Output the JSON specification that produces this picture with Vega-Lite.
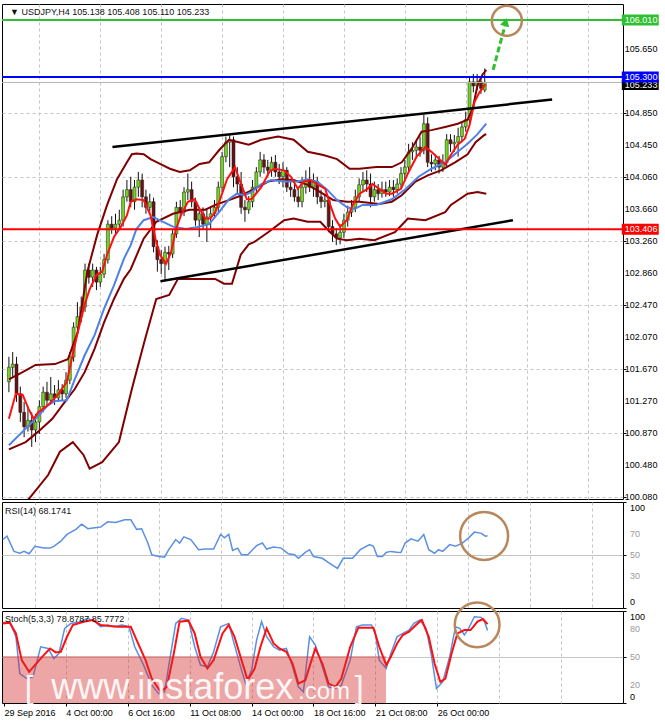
{
  "$schema": "https://vega.github.io/schema/vega-lite/v6.json",
  "padding": {"left": 0, "top": 0, "right": 0, "bottom": 0},
  "background": "white",
  "bounds": "flush",
  "spacing": 3,
  "config": {
    "font": "Liberation Sans",
    "view": {"stroke": "black", "strokeWidth": 1},
    "axis": {"labelFont": "Liberation Sans", "labelFontSize": 9, "labelColor": "black", "tickColor": "black", "title": null}
  },
  "datasets": {
    "candles": [
      {"i":0,"o":101.51,"h":101.82,"l":101.38,"c":101.69},
      {"i":1,"o":101.69,"h":101.88,"l":101.57,"c":101.73},
      {"i":2,"o":101.73,"h":101.82,"l":101.26,"c":101.36},
      {"i":3,"o":101.36,"h":101.45,"l":101.01,"c":101.13},
      {"i":4,"o":101.13,"h":101.26,"l":100.82,"c":100.95},
      {"i":5,"o":100.95,"h":101.20,"l":100.89,"c":101.03},
      {"i":6,"o":101.03,"h":101.13,"l":100.70,"c":100.91},
      {"i":7,"o":100.91,"h":101.11,"l":100.76,"c":101.01},
      {"i":8,"o":101.01,"h":101.28,"l":100.86,"c":101.20},
      {"i":9,"o":101.20,"h":101.45,"l":101.13,"c":101.38},
      {"i":10,"o":101.38,"h":101.51,"l":101.20,"c":101.28},
      {"i":11,"o":101.28,"h":101.57,"l":101.23,"c":101.36},
      {"i":12,"o":101.36,"h":101.47,"l":101.22,"c":101.31},
      {"i":13,"o":101.31,"h":101.53,"l":101.26,"c":101.41},
      {"i":14,"o":101.41,"h":101.48,"l":101.28,"c":101.36},
      {"i":15,"o":101.36,"h":101.63,"l":101.31,"c":101.53},
      {"i":16,"o":101.53,"h":101.88,"l":101.48,"c":101.82},
      {"i":17,"o":101.82,"h":102.25,"l":101.76,"c":102.19},
      {"i":18,"o":102.19,"h":102.50,"l":102.10,"c":102.32},
      {"i":19,"o":102.32,"h":102.57,"l":102.25,"c":102.44},
      {"i":20,"o":102.44,"h":102.98,"l":102.38,"c":102.90},
      {"i":21,"o":102.90,"h":102.98,"l":102.73,"c":102.81},
      {"i":22,"o":102.81,"h":102.98,"l":102.69,"c":102.90},
      {"i":23,"o":102.90,"h":102.94,"l":102.65,"c":102.75},
      {"i":24,"o":102.75,"h":102.94,"l":102.69,"c":102.85},
      {"i":25,"o":102.85,"h":103.10,"l":102.80,"c":103.03},
      {"i":26,"o":103.03,"h":103.52,"l":102.98,"c":103.47},
      {"i":27,"o":103.47,"h":103.57,"l":103.35,"c":103.42},
      {"i":28,"o":103.42,"h":103.60,"l":103.35,"c":103.47},
      {"i":29,"o":103.47,"h":103.65,"l":103.40,"c":103.52},
      {"i":30,"o":103.52,"h":103.90,"l":103.44,"c":103.81},
      {"i":31,"o":103.81,"h":104.02,"l":103.75,"c":103.90},
      {"i":32,"o":103.90,"h":104.06,"l":103.68,"c":103.75},
      {"i":33,"o":103.75,"h":104.02,"l":103.65,"c":103.93},
      {"i":34,"o":103.93,"h":104.12,"l":103.81,"c":104.02},
      {"i":35,"o":104.02,"h":104.10,"l":103.68,"c":103.81},
      {"i":36,"o":103.81,"h":103.90,"l":103.60,"c":103.68},
      {"i":37,"o":103.68,"h":103.85,"l":103.60,"c":103.75},
      {"i":38,"o":103.75,"h":103.80,"l":103.12,"c":103.19},
      {"i":39,"o":103.19,"h":103.27,"l":102.88,"c":103.03},
      {"i":40,"o":103.03,"h":103.15,"l":102.85,"c":102.98},
      {"i":41,"o":102.98,"h":103.19,"l":102.78,"c":103.12},
      {"i":42,"o":103.12,"h":103.20,"l":102.90,"c":103.10},
      {"i":43,"o":103.10,"h":103.40,"l":103.05,"c":103.35},
      {"i":44,"o":103.35,"h":103.75,"l":103.30,"c":103.68},
      {"i":45,"o":103.68,"h":103.77,"l":103.56,"c":103.62},
      {"i":46,"o":103.62,"h":103.93,"l":103.57,"c":103.87},
      {"i":47,"o":103.87,"h":104.10,"l":103.77,"c":103.90},
      {"i":48,"o":103.90,"h":104.00,"l":103.68,"c":103.75},
      {"i":49,"o":103.75,"h":103.80,"l":103.45,"c":103.52},
      {"i":50,"o":103.52,"h":103.68,"l":103.31,"c":103.60},
      {"i":51,"o":103.60,"h":103.68,"l":103.40,"c":103.47},
      {"i":52,"o":103.47,"h":103.65,"l":103.25,"c":103.56},
      {"i":53,"o":103.56,"h":103.68,"l":103.40,"c":103.60},
      {"i":54,"o":103.60,"h":103.77,"l":103.55,"c":103.68},
      {"i":55,"o":103.68,"h":104.00,"l":103.62,"c":103.93},
      {"i":56,"o":103.93,"h":104.37,"l":103.87,"c":104.31},
      {"i":57,"o":104.31,"h":104.56,"l":104.24,"c":104.49},
      {"i":58,"o":104.49,"h":104.59,"l":104.18,"c":104.52},
      {"i":59,"o":104.52,"h":104.56,"l":103.93,"c":104.06},
      {"i":60,"o":104.06,"h":104.18,"l":103.85,"c":103.97},
      {"i":61,"o":103.97,"h":104.12,"l":103.60,"c":103.68},
      {"i":62,"o":103.68,"h":103.77,"l":103.50,"c":103.65},
      {"i":63,"o":103.65,"h":103.82,"l":103.60,"c":103.75},
      {"i":64,"o":103.75,"h":104.02,"l":103.68,"c":103.93},
      {"i":65,"o":103.93,"h":104.18,"l":103.85,"c":104.12},
      {"i":66,"o":104.12,"h":104.37,"l":104.06,"c":104.27},
      {"i":67,"o":104.27,"h":104.34,"l":104.10,"c":104.18},
      {"i":68,"o":104.18,"h":104.27,"l":104.06,"c":104.14},
      {"i":69,"o":104.14,"h":104.31,"l":104.06,"c":104.24},
      {"i":70,"o":104.24,"h":104.33,"l":104.06,"c":104.12},
      {"i":71,"o":104.12,"h":104.22,"l":103.97,"c":104.06},
      {"i":72,"o":104.06,"h":104.24,"l":103.93,"c":104.14},
      {"i":73,"o":104.14,"h":104.18,"l":103.87,"c":103.93},
      {"i":74,"o":103.93,"h":104.02,"l":103.81,"c":103.90},
      {"i":75,"o":103.90,"h":104.00,"l":103.75,"c":103.81},
      {"i":76,"o":103.81,"h":103.93,"l":103.68,"c":103.75},
      {"i":77,"o":103.75,"h":104.06,"l":103.68,"c":103.93},
      {"i":78,"o":103.93,"h":104.14,"l":103.85,"c":104.02},
      {"i":79,"o":104.02,"h":104.18,"l":103.87,"c":103.93},
      {"i":80,"o":103.93,"h":104.10,"l":103.81,"c":104.00},
      {"i":81,"o":104.00,"h":104.06,"l":103.72,"c":103.81},
      {"i":82,"o":103.81,"h":103.90,"l":103.67,"c":103.75},
      {"i":83,"o":103.75,"h":103.85,"l":103.68,"c":103.77},
      {"i":84,"o":103.77,"h":103.81,"l":103.37,"c":103.44},
      {"i":85,"o":103.44,"h":103.52,"l":103.25,"c":103.35},
      {"i":86,"o":103.35,"h":103.42,"l":103.21,"c":103.30},
      {"i":87,"o":103.30,"h":103.47,"l":103.22,"c":103.37},
      {"i":88,"o":103.37,"h":103.60,"l":103.30,"c":103.52},
      {"i":89,"o":103.52,"h":103.70,"l":103.44,"c":103.62},
      {"i":90,"o":103.62,"h":103.77,"l":103.56,"c":103.68},
      {"i":91,"o":103.68,"h":103.90,"l":103.62,"c":103.81},
      {"i":92,"o":103.81,"h":104.04,"l":103.75,"c":103.96},
      {"i":93,"o":103.96,"h":104.12,"l":103.87,"c":104.02},
      {"i":94,"o":104.02,"h":104.14,"l":103.87,"c":103.97},
      {"i":95,"o":103.97,"h":104.10,"l":103.68,"c":103.81},
      {"i":96,"o":103.81,"h":104.00,"l":103.75,"c":103.90},
      {"i":97,"o":103.90,"h":103.97,"l":103.77,"c":103.85},
      {"i":98,"o":103.85,"h":104.00,"l":103.80,"c":103.90},
      {"i":99,"o":103.90,"h":104.00,"l":103.81,"c":103.87},
      {"i":100,"o":103.87,"h":104.02,"l":103.82,"c":103.93},
      {"i":101,"o":103.93,"h":104.02,"l":103.81,"c":103.90},
      {"i":102,"o":103.90,"h":104.04,"l":103.85,"c":103.97},
      {"i":103,"o":103.97,"h":104.18,"l":103.92,"c":104.10},
      {"i":104,"o":104.10,"h":104.27,"l":104.02,"c":104.18},
      {"i":105,"o":104.18,"h":104.47,"l":104.12,"c":104.37},
      {"i":106,"o":104.37,"h":104.49,"l":104.27,"c":104.39},
      {"i":107,"o":104.39,"h":104.52,"l":104.31,"c":104.43},
      {"i":108,"o":104.43,"h":104.56,"l":104.31,"c":104.39},
      {"i":109,"o":104.39,"h":104.83,"l":104.34,"c":104.72},
      {"i":110,"o":104.72,"h":104.80,"l":104.18,"c":104.24},
      {"i":111,"o":104.24,"h":104.34,"l":104.12,"c":104.22},
      {"i":112,"o":104.22,"h":104.34,"l":104.14,"c":104.27},
      {"i":113,"o":104.27,"h":104.32,"l":104.10,"c":104.18},
      {"i":114,"o":104.18,"h":104.34,"l":104.12,"c":104.24},
      {"i":115,"o":104.24,"h":104.59,"l":104.18,"c":104.52},
      {"i":116,"o":104.52,"h":104.59,"l":104.37,"c":104.47},
      {"i":117,"o":104.47,"h":104.58,"l":104.37,"c":104.49},
      {"i":118,"o":104.49,"h":104.67,"l":104.31,"c":104.56},
      {"i":119,"o":104.56,"h":104.74,"l":104.49,"c":104.68},
      {"i":120,"o":104.68,"h":104.87,"l":104.62,"c":104.77},
      {"i":121,"o":104.77,"h":105.31,"l":104.72,"c":105.24},
      {"i":122,"o":105.24,"h":105.34,"l":105.11,"c":105.19},
      {"i":123,"o":105.19,"h":105.34,"l":105.14,"c":105.24},
      {"i":124,"o":105.24,"h":105.29,"l":105.09,"c":105.16},
      {"i":125,"o":105.138,"h":105.408,"l":105.110,"c":105.233}
    ],
    "lines": [
      {"s":"up","i":0,"p":101.54},{"s":"up","i":3.6,"p":101.63},{"s":"up","i":7.0,"p":101.72},{"s":"up","i":12.1,"p":101.73},{"s":"up","i":15.5,"p":101.79},{"s":"up","i":18.1,"p":102.13},{"s":"up","i":20.6,"p":102.88},{"s":"up","i":23.2,"p":103.34},{"s":"up","i":25.8,"p":103.71},{"s":"up","i":28.4,"p":104.03},{"s":"up","i":31.0,"p":104.24},{"s":"up","i":32.3,"p":104.34},{"s":"up","i":33.5,"p":104.35},{"s":"up","i":35.4,"p":104.34},{"s":"up","i":37.2,"p":104.28},{"s":"up","i":39.7,"p":104.22},{"s":"up","i":42.3,"p":104.16},{"s":"up","i":44.9,"p":104.12},{"s":"up","i":47.5,"p":104.14},{"s":"up","i":50.1,"p":104.22},{"s":"up","i":52.6,"p":104.24},{"s":"up","i":55.2,"p":104.39},{"s":"up","i":57.8,"p":104.52},{"s":"up","i":60.4,"p":104.49},{"s":"up","i":63.0,"p":104.46},{"s":"up","i":66.3,"p":104.52},{"s":"up","i":70.7,"p":104.56},{"s":"up","i":74.8,"p":104.52},{"s":"up","i":78.5,"p":104.37},{"s":"up","i":82.6,"p":104.33},{"s":"up","i":86.2,"p":104.28},{"s":"up","i":89.5,"p":104.16},{"s":"up","i":92.1,"p":104.16},{"s":"up","i":96.5,"p":104.18},{"s":"up","i":100.6,"p":104.18},{"s":"up","i":103.2,"p":104.24},{"s":"up","i":105.8,"p":104.41},{"s":"up","i":108.4,"p":104.62},{"s":"up","i":111.0,"p":104.64},{"s":"up","i":114.6,"p":104.68},{"s":"up","i":117.9,"p":104.72},{"s":"up","i":120.5,"p":104.77},{"s":"up","i":121.8,"p":104.90},{"s":"up","i":123.1,"p":105.20},{"s":"up","i":124.4,"p":105.33},{"s":"up","i":125.4,"p":105.39},
      {"s":"mid","i":0,"p":100.67},{"s":"mid","i":4.4,"p":100.76},{"s":"mid","i":7.7,"p":100.89},{"s":"mid","i":11.4,"p":101.05},{"s":"mid","i":14.7,"p":101.26},{"s":"mid","i":17.3,"p":101.42},{"s":"mid","i":19.9,"p":101.63},{"s":"mid","i":22.5,"p":101.92},{"s":"mid","i":25.0,"p":102.25},{"s":"mid","i":27.6,"p":102.54},{"s":"mid","i":30.2,"p":102.79},{"s":"mid","i":32.0,"p":102.91},{"s":"mid","i":35.4,"p":103.29},{"s":"mid","i":38.7,"p":103.50},{"s":"mid","i":43.1,"p":103.60},{"s":"mid","i":47.5,"p":103.65},{"s":"mid","i":51.6,"p":103.65},{"s":"mid","i":54.2,"p":103.71},{"s":"mid","i":57.8,"p":103.77},{"s":"mid","i":61.2,"p":103.83},{"s":"mid","i":64.5,"p":103.91},{"s":"mid","i":68.1,"p":104.00},{"s":"mid","i":71.5,"p":104.03},{"s":"mid","i":74.8,"p":104.02},{"s":"mid","i":78.5,"p":103.96},{"s":"mid","i":81.8,"p":103.87},{"s":"mid","i":85.2,"p":103.77},{"s":"mid","i":88.8,"p":103.75},{"s":"mid","i":92.1,"p":103.75},{"s":"mid","i":97.3,"p":103.72},{"s":"mid","i":100.6,"p":103.75},{"s":"mid","i":103.2,"p":103.83},{"s":"mid","i":106.8,"p":104.00},{"s":"mid","i":110.2,"p":104.08},{"s":"mid","i":113.5,"p":104.14},{"s":"mid","i":117.2,"p":104.24},{"s":"mid","i":120.5,"p":104.34},{"s":"mid","i":122.6,"p":104.49},{"s":"mid","i":124.9,"p":104.58},{"s":"mid","i":125.4,"p":104.59},
      {"s":"lo","i":1.8,"p":99.95},{"s":"lo","i":5.2,"p":100.05},{"s":"lo","i":10.3,"p":100.35},{"s":"lo","i":13.4,"p":100.64},{"s":"lo","i":16.8,"p":100.76},{"s":"lo","i":19.6,"p":100.60},{"s":"lo","i":21.2,"p":100.43},{"s":"lo","i":24.5,"p":100.51},{"s":"lo","i":28.9,"p":100.76},{"s":"lo","i":32.3,"p":101.42},{"s":"lo","i":35.6,"p":102.01},{"s":"lo","i":38.7,"p":102.54},{"s":"lo","i":42.1,"p":102.59},{"s":"lo","i":44.4,"p":102.79},{"s":"lo","i":54.2,"p":102.79},{"s":"lo","i":56.5,"p":102.73},{"s":"lo","i":58.6,"p":102.73},{"s":"lo","i":60.9,"p":103.09},{"s":"lo","i":63.0,"p":103.22},{"s":"lo","i":64.5,"p":103.25},{"s":"lo","i":68.1,"p":103.37},{"s":"lo","i":72.3,"p":103.52},{"s":"lo","i":74.8,"p":103.54},{"s":"lo","i":78.5,"p":103.50},{"s":"lo","i":81.8,"p":103.50},{"s":"lo","i":84.4,"p":103.37},{"s":"lo","i":86.2,"p":103.29},{"s":"lo","i":88.8,"p":103.27},{"s":"lo","i":92.1,"p":103.29},{"s":"lo","i":96.0,"p":103.27},{"s":"lo","i":101.4,"p":103.37},{"s":"lo","i":104.8,"p":103.54},{"s":"lo","i":109.4,"p":103.52},{"s":"lo","i":114.6,"p":103.62},{"s":"lo","i":116.1,"p":103.71},{"s":"lo","i":120.5,"p":103.85},{"s":"lo","i":123.1,"p":103.87},{"s":"lo","i":125.4,"p":103.85},
      {"s":"ma","i":0,"p":100.72},{"s":"ma","i":3.6,"p":100.89},{"s":"ma","i":7.0,"p":101.05},{"s":"ma","i":10.3,"p":101.22},{"s":"ma","i":12.1,"p":101.27},{"s":"ma","i":15.2,"p":101.28},{"s":"ma","i":17.3,"p":101.54},{"s":"ma","i":19.9,"p":101.84},{"s":"ma","i":22.5,"p":102.09},{"s":"ma","i":25.0,"p":102.42},{"s":"ma","i":27.6,"p":102.71},{"s":"ma","i":30.2,"p":103.04},{"s":"ma","i":32.0,"p":103.21},{"s":"ma","i":33.5,"p":103.41},{"s":"ma","i":35.4,"p":103.52},{"s":"ma","i":37.9,"p":103.56},{"s":"ma","i":40.5,"p":103.50},{"s":"ma","i":43.1,"p":103.44},{"s":"ma","i":46.5,"p":103.41},{"s":"ma","i":50.1,"p":103.44},{"s":"ma","i":52.6,"p":103.47},{"s":"ma","i":55.2,"p":103.62},{"s":"ma","i":57.8,"p":103.78},{"s":"ma","i":59.9,"p":103.85},{"s":"ma","i":61.9,"p":103.83},{"s":"ma","i":63.7,"p":103.87},{"s":"ma","i":66.3,"p":103.97},{"s":"ma","i":68.9,"p":104.02},{"s":"ma","i":72.3,"p":104.00},{"s":"ma","i":75.9,"p":104.00},{"s":"ma","i":78.5,"p":104.03},{"s":"ma","i":81.0,"p":104.00},{"s":"ma","i":83.6,"p":103.90},{"s":"ma","i":86.2,"p":103.77},{"s":"ma","i":88.8,"p":103.68},{"s":"ma","i":90.8,"p":103.66},{"s":"ma","i":92.9,"p":103.71},{"s":"ma","i":96.5,"p":103.71},{"s":"ma","i":100.6,"p":103.78},{"s":"ma","i":104.3,"p":103.91},{"s":"ma","i":107.6,"p":104.06},{"s":"ma","i":111.0,"p":104.16},{"s":"ma","i":114.6,"p":104.24},{"s":"ma","i":117.9,"p":104.37},{"s":"ma","i":120.5,"p":104.47},{"s":"ma","i":123.1,"p":104.59},{"s":"ma","i":125.4,"p":104.72},
      {"s":"fast","i":0,"p":101.05},{"s":"fast","i":1.8,"p":101.36},{"s":"fast","i":3.6,"p":101.35},{"s":"fast","i":5.2,"p":101.17},{"s":"fast","i":6.5,"p":101.05},{"s":"fast","i":7.7,"p":101.13},{"s":"fast","i":10.3,"p":101.22},{"s":"fast","i":12.9,"p":101.35},{"s":"fast","i":15.2,"p":101.51},{"s":"fast","i":16.5,"p":101.79},{"s":"fast","i":18.1,"p":102.13},{"s":"fast","i":19.9,"p":102.47},{"s":"fast","i":21.2,"p":102.66},{"s":"fast","i":23.0,"p":102.84},{"s":"fast","i":24.5,"p":102.88},{"s":"fast","i":25.8,"p":103.09},{"s":"fast","i":27.6,"p":103.31},{"s":"fast","i":29.4,"p":103.44},{"s":"fast","i":31.0,"p":103.58},{"s":"fast","i":32.0,"p":103.75},{"s":"fast","i":33.5,"p":103.78},{"s":"fast","i":35.4,"p":103.77},{"s":"fast","i":37.2,"p":103.58},{"s":"fast","i":38.5,"p":103.29},{"s":"fast","i":39.7,"p":103.09},{"s":"fast","i":41.3,"p":102.98},{"s":"fast","i":42.6,"p":103.12},{"s":"fast","i":43.9,"p":103.41},{"s":"fast","i":45.2,"p":103.58},{"s":"fast","i":47.0,"p":103.75},{"s":"fast","i":48.8,"p":103.78},{"s":"fast","i":50.1,"p":103.66},{"s":"fast","i":51.6,"p":103.54},{"s":"fast","i":52.9,"p":103.54},{"s":"fast","i":54.2,"p":103.62},{"s":"fast","i":55.5,"p":103.78},{"s":"fast","i":57.3,"p":104.03},{"s":"fast","i":59.4,"p":104.18},{"s":"fast","i":60.6,"p":104.02},{"s":"fast","i":62.5,"p":103.78},{"s":"fast","i":63.7,"p":103.78},{"s":"fast","i":66.3,"p":103.93},{"s":"fast","i":68.4,"p":104.12},{"s":"fast","i":69.7,"p":104.16},{"s":"fast","i":72.3,"p":104.14},{"s":"fast","i":74.1,"p":104.06},{"s":"fast","i":75.9,"p":103.91},{"s":"fast","i":77.4,"p":104.00},{"s":"fast","i":79.2,"p":104.02},{"s":"fast","i":81.3,"p":103.96},{"s":"fast","i":83.1,"p":103.91},{"s":"fast","i":84.4,"p":103.71},{"s":"fast","i":85.7,"p":103.54},{"s":"fast","i":87.0,"p":103.44},{"s":"fast","i":88.8,"p":103.52},{"s":"fast","i":90.3,"p":103.71},{"s":"fast","i":92.1,"p":103.85},{"s":"fast","i":94.2,"p":103.91},{"s":"fast","i":95.5,"p":103.97},{"s":"fast","i":97.3,"p":103.91},{"s":"fast","i":99.1,"p":103.85},{"s":"fast","i":100.6,"p":103.85},{"s":"fast","i":103.0,"p":103.91},{"s":"fast","i":105.0,"p":104.12},{"s":"fast","i":107.1,"p":104.31},{"s":"fast","i":109.4,"p":104.43},{"s":"fast","i":111.0,"p":104.37},{"s":"fast","i":113.3,"p":104.27},{"s":"fast","i":114.6,"p":104.21},{"s":"fast","i":116.1,"p":104.33},{"s":"fast","i":117.9,"p":104.46},{"s":"fast","i":119.7,"p":104.53},{"s":"fast","i":121.0,"p":104.70},{"s":"fast","i":122.3,"p":104.99},{"s":"fast","i":123.6,"p":105.11},{"s":"fast","i":125.2,"p":105.21}
    ],
    "trend": [
      {"t":"upper","i":27.2,"p":104.43},{"t":"upper","i":142.7,"p":105.02},
      {"t":"lower","i":39.8,"p":102.76},{"t":"lower","i":132.4,"p":103.52}
    ],
    "levels": [
      {"name":"target","p":106.01},{"name":"resistance","p":105.3},{"name":"support","p":103.406},{"name":"bid","p":105.233}
    ],
    "priceTicks": [
      {"p":100.08},{"p":100.48},{"p":100.87},{"p":101.27},{"p":101.67},{"p":102.07},{"p":102.47},{"p":102.86},{"p":103.26},{"p":103.66},{"p":104.06},{"p":104.45},{"p":104.85},{"p":105.65}
    ],
    "rsiTicks": [{"v":0},{"v":30},{"v":50},{"v":70},{"v":100}],
    "stochTicks": [{"v":0},{"v":20},{"v":50},{"v":80},{"v":100}],
    "arrow": [{"i":127.2,"p":105.39},{"i":130.3,"p":105.94}],
    "rsi": [
      {"i":-0.3,"v":64.6},{"i":0.8,"v":67.8},{"i":2.6,"v":53.4},{"i":4.1,"v":51.7},{"i":5.2,"v":53.4},{"i":6.5,"v":51.2},{"i":8.0,"v":58.2},{"i":10.3,"v":56.5},{"i":11.9,"v":56.5},{"i":12.9,"v":58.2},{"i":14.7,"v":63.0},{"i":16.3,"v":69.4},{"i":18.6,"v":74.2},{"i":20.1,"v":79.0},{"i":21.7,"v":74.8},{"i":23.5,"v":75.8},{"i":25.0,"v":76.4},{"i":26.8,"v":81.3},{"i":28.9,"v":80.6},{"i":31.2,"v":83.2},{"i":32.8,"v":83.2},{"i":34.3,"v":74.2},{"i":35.6,"v":74.8},{"i":37.2,"v":61.3},{"i":38.2,"v":50.2},{"i":40.0,"v":48.6},{"i":41.5,"v":47.9},{"i":42.6,"v":55.0},{"i":44.4,"v":64.6},{"i":45.4,"v":61.3},{"i":46.5,"v":67.1},{"i":48.3,"v":64.6},{"i":50.3,"v":55.0},{"i":52.1,"v":55.6},{"i":54.2,"v":55.6},{"i":56.0,"v":69.4},{"i":57.0,"v":66.2},{"i":58.1,"v":69.4},{"i":59.1,"v":54.3},{"i":60.4,"v":56.5},{"i":61.4,"v":50.2},{"i":63.0,"v":50.2},{"i":65.3,"v":58.8},{"i":66.8,"v":61.3},{"i":67.9,"v":55.6},{"i":69.7,"v":57.5},{"i":71.7,"v":56.5},{"i":73.5,"v":51.2},{"i":75.1,"v":50.2},{"i":76.1,"v":46.9},{"i":77.9,"v":52.4},{"i":79.0,"v":55.0},{"i":80.0,"v":48.6},{"i":82.3,"v":46.9},{"i":83.9,"v":42.8},{"i":86.2,"v":37.3},{"i":87.7,"v":46.9},{"i":90.1,"v":46.9},{"i":92.1,"v":55.0},{"i":94.5,"v":59.8},{"i":95.5,"v":58.2},{"i":96.5,"v":48.6},{"i":97.8,"v":48.6},{"i":98.8,"v":52.4},{"i":99.9,"v":53.4},{"i":101.6,"v":52.7},{"i":102.6,"v":52.4},{"i":103.7,"v":61.3},{"i":105.2,"v":65.2},{"i":107.0,"v":63.0},{"i":108.5,"v":69.4},{"i":109.8,"v":55.0},{"i":111.3,"v":51.7},{"i":112.3,"v":55.0},{"i":113.4,"v":53.4},{"i":115.2,"v":59.8},{"i":116.7,"v":58.2},{"i":118.5,"v":61.3},{"i":120.1,"v":66.2},{"i":121.6,"v":71.6},{"i":123.4,"v":70.4},{"i":124.4,"v":67.8},{"i":125.0,"v":68.2}
    ],
    "stoch": [
      {"s":"main","i":-0.3,"v":87.3},{"s":"main","i":1.5,"v":88.4},{"s":"main","i":3.1,"v":72.0},{"s":"main","i":4.1,"v":32.0},{"s":"main","i":5.9,"v":26.6},{"s":"main","i":7.5,"v":28.4},{"s":"main","i":9.5,"v":61.1},{"s":"main","i":11.4,"v":59.3},{"s":"main","i":12.9,"v":48.4},{"s":"main","i":14.2,"v":53.8},{"s":"main","i":15.7,"v":81.1},{"s":"main","i":17.3,"v":86.5},{"s":"main","i":19.6,"v":88.4},{"s":"main","i":21.7,"v":92.0},{"s":"main","i":23.5,"v":88.4},{"s":"main","i":25.0,"v":82.9},{"s":"main","i":26.8,"v":84.8},{"s":"main","i":28.4,"v":82.9},{"s":"main","i":30.5,"v":84.8},{"s":"main","i":32.3,"v":82.9},{"s":"main","i":33.8,"v":61.1},{"s":"main","i":36.1,"v":41.2},{"s":"main","i":38.2,"v":19.4},{"s":"main","i":40.0,"v":10.2},{"s":"main","i":41.5,"v":12.1},{"s":"main","i":43.4,"v":61.1},{"s":"main","i":44.4,"v":86.5},{"s":"main","i":45.9,"v":92.0},{"s":"main","i":47.7,"v":90.2},{"s":"main","i":49.3,"v":61.1},{"s":"main","i":50.8,"v":41.2},{"s":"main","i":52.6,"v":39.3},{"s":"main","i":54.2,"v":55.7},{"s":"main","i":56.0,"v":82.9},{"s":"main","i":58.1,"v":86.5},{"s":"main","i":59.6,"v":63.0},{"s":"main","i":61.4,"v":35.7},{"s":"main","i":62.5,"v":21.1},{"s":"main","i":64.0,"v":35.7},{"s":"main","i":65.3,"v":68.4},{"s":"main","i":66.6,"v":88.4},{"s":"main","i":67.9,"v":72.0},{"s":"main","i":69.7,"v":61.1},{"s":"main","i":71.2,"v":57.5},{"s":"main","i":73.0,"v":59.3},{"s":"main","i":74.6,"v":39.3},{"s":"main","i":76.1,"v":17.5},{"s":"main","i":77.4,"v":12.1},{"s":"main","i":79.0,"v":72.0},{"s":"main","i":80.5,"v":63.0},{"s":"main","i":82.3,"v":39.3},{"s":"main","i":83.9,"v":17.5},{"s":"main","i":85.7,"v":15.7},{"s":"main","i":87.2,"v":19.4},{"s":"main","i":89.5,"v":46.6},{"s":"main","i":91.1,"v":82.9},{"s":"main","i":92.6,"v":84.8},{"s":"main","i":95.0,"v":84.8},{"s":"main","i":96.0,"v":75.6},{"s":"main","i":97.0,"v":46.6},{"s":"main","i":98.8,"v":37.5},{"s":"main","i":100.0,"v":53.8},{"s":"main","i":101.6,"v":72.0},{"s":"main","i":103.1,"v":75.6},{"s":"main","i":104.7,"v":79.3},{"s":"main","i":106.0,"v":86.5},{"s":"main","i":107.5,"v":90.2},{"s":"main","i":109.1,"v":81.1},{"s":"main","i":110.4,"v":53.8},{"s":"main","i":111.8,"v":15.7},{"s":"main","i":113.4,"v":22.9},{"s":"main","i":115.2,"v":50.2},{"s":"main","i":116.7,"v":82.9},{"s":"main","i":117.8,"v":81.1},{"s":"main","i":119.0,"v":73.9},{"s":"main","i":120.1,"v":81.1},{"s":"main","i":121.6,"v":93.8},{"s":"main","i":123.4,"v":93.1},{"s":"main","i":124.2,"v":88.4},{"s":"main","i":125.0,"v":78.9},
      {"s":"signal","i":-0.3,"v":86.5},{"s":"signal","i":1.5,"v":87.3},{"s":"signal","i":3.1,"v":75.6},{"s":"signal","i":4.6,"v":46.6},{"s":"signal","i":6.5,"v":33.9},{"s":"signal","i":8.0,"v":41.2},{"s":"signal","i":10.3,"v":52.1},{"s":"signal","i":11.9,"v":59.3},{"s":"signal","i":13.4,"v":55.0},{"s":"signal","i":14.7,"v":55.7},{"s":"signal","i":16.3,"v":72.0},{"s":"signal","i":17.8,"v":84.8},{"s":"signal","i":20.6,"v":88.4},{"s":"signal","i":23.0,"v":90.2},{"s":"signal","i":25.0,"v":84.8},{"s":"signal","i":27.4,"v":83.7},{"s":"signal","i":29.4,"v":82.9},{"s":"signal","i":32.8,"v":82.9},{"s":"signal","i":34.3,"v":68.4},{"s":"signal","i":36.6,"v":46.6},{"s":"signal","i":38.2,"v":26.6},{"s":"signal","i":40.5,"v":12.1},{"s":"signal","i":42.1,"v":17.5},{"s":"signal","i":43.9,"v":53.8},{"s":"signal","i":45.4,"v":88.4},{"s":"signal","i":47.7,"v":89.5},{"s":"signal","i":49.3,"v":75.6},{"s":"signal","i":50.8,"v":50.2},{"s":"signal","i":52.6,"v":37.5},{"s":"signal","i":54.2,"v":46.6},{"s":"signal","i":56.5,"v":75.6},{"s":"signal","i":58.1,"v":84.8},{"s":"signal","i":59.6,"v":72.0},{"s":"signal","i":61.4,"v":46.6},{"s":"signal","i":63.0,"v":24.8},{"s":"signal","i":64.8,"v":37.5},{"s":"signal","i":66.3,"v":61.1},{"s":"signal","i":67.9,"v":81.1},{"s":"signal","i":69.7,"v":64.7},{"s":"signal","i":71.2,"v":59.3},{"s":"signal","i":73.0,"v":55.7},{"s":"signal","i":74.6,"v":42.9},{"s":"signal","i":76.1,"v":21.1},{"s":"signal","i":77.9,"v":24.8},{"s":"signal","i":79.5,"v":46.6},{"s":"signal","i":80.5,"v":59.3},{"s":"signal","i":82.3,"v":42.9},{"s":"signal","i":83.9,"v":21.1},{"s":"signal","i":85.7,"v":17.5},{"s":"signal","i":87.2,"v":26.6},{"s":"signal","i":89.5,"v":61.1},{"s":"signal","i":91.6,"v":81.9},{"s":"signal","i":95.5,"v":81.9},{"s":"signal","i":97.0,"v":61.1},{"s":"signal","i":98.8,"v":41.2},{"s":"signal","i":100.0,"v":50.2},{"s":"signal","i":101.6,"v":64.7},{"s":"signal","i":103.1,"v":73.9},{"s":"signal","i":104.7,"v":77.5},{"s":"signal","i":106.5,"v":84.8},{"s":"signal","i":108.0,"v":90.2},{"s":"signal","i":109.8,"v":72.0},{"s":"signal","i":111.3,"v":42.9},{"s":"signal","i":112.8,"v":22.9},{"s":"signal","i":114.1,"v":26.6},{"s":"signal","i":115.7,"v":53.8},{"s":"signal","i":117.2,"v":75.6},{"s":"signal","i":119.0,"v":79.3},{"s":"signal","i":120.6,"v":79.3},{"s":"signal","i":122.4,"v":88.4},{"s":"signal","i":123.8,"v":91.3},{"s":"signal","i":125.0,"v":85.8}
    ]
  },
  "vconcat": [
    {
      "width": 621,
      "height": 495,
      "layer": [
        {
          "data": {"name": "candles"},
          "mark": {"type": "rule", "color": "#111111", "strokeWidth": 1, "clip": true},
          "encoding": {
            "x": {"field": "i", "type": "quantitative", "scale": {"domain": [-0.5, 160], "nice": false, "zero": false},
              "axis": {"values": [8,16,24,32,40,48,56,64,72,80,88,96,104,112,120,128,136,144,152], "labels": false, "ticks": false, "domain": false, "grid": true, "gridDash": [3,3], "gridColor": "#c4c4c4", "title": null}},
            "y": {"field": "l", "type": "quantitative", "scale": {"domain": [100.052, 106.209], "nice": false, "zero": false},
              "axis": {"orient": "right", "values": [100.08,100.48,100.87,101.27,101.67,102.07,102.47,102.86,103.26,103.66,104.06,104.45,104.85,105.65], "labels": false, "grid": true, "gridDash": [3,3], "gridColor": "#c4c4c4", "domain": false, "tickSize": 3, "title": null}},
            "y2": {"field": "h"}
          }
        },
        {
          "data": {"name": "priceTicks"},
          "mark": {"type": "text", "fontSize": 9, "color": "black", "align": "left", "baseline": "middle", "clip": false},
          "encoding": {
            "x": {"datum": 161.8},
            "y": {"field": "p", "type": "quantitative"},
            "text": {"field": "p", "format": ".3f"}
          }
        },
        {
          "data": {"name": "candles"},
          "mark": {"type": "bar", "width": 3, "stroke": "#1a1a1a", "strokeWidth": 0.5, "clip": true},
          "encoding": {
            "x": {"field": "i", "type": "quantitative"},
            "y": {"field": "o", "type": "quantitative"},
            "y2": {"field": "c"},
            "color": {"condition": {"test": "datum.c >= datum.o", "value": "#72d61c"}, "value": "#6a1212"}
          }
        },
        {
          "data": {"name": "lines"},
          "transform": [{"filter": "datum.s == 'up' || datum.s == 'mid' || datum.s == 'lo'"}],
          "mark": {"type": "line", "color": "#800000", "strokeWidth": 2, "clip": true},
          "encoding": {
            "x": {"field": "i", "type": "quantitative"},
            "y": {"field": "p", "type": "quantitative"},
            "detail": {"field": "s"}
          }
        },
        {
          "data": {"name": "lines"},
          "transform": [{"filter": "datum.s == 'ma'"}],
          "mark": {"type": "line", "color": "#4f80e6", "strokeWidth": 2, "clip": true},
          "encoding": {
            "x": {"field": "i", "type": "quantitative"},
            "y": {"field": "p", "type": "quantitative"}
          }
        },
        {
          "data": {"name": "lines"},
          "transform": [{"filter": "datum.s == 'fast'"}],
          "mark": {"type": "line", "color": "#ff1010", "strokeWidth": 2, "clip": true},
          "encoding": {
            "x": {"field": "i", "type": "quantitative"},
            "y": {"field": "p", "type": "quantitative"}
          }
        },
        {
          "data": {"name": "trend"},
          "mark": {"type": "line", "color": "black", "strokeWidth": 2.5},
          "encoding": {
            "x": {"field": "i", "type": "quantitative"},
            "y": {"field": "p", "type": "quantitative"},
            "detail": {"field": "t"}
          }
        },
        {
          "data": {"name": "levels"},
          "transform": [{"filter": "datum.name == 'bid'"}],
          "mark": {"type": "rule", "color": "#b4b4b4", "strokeWidth": 1},
          "encoding": {"y": {"field": "p", "type": "quantitative"}}
        },
        {
          "data": {"name": "levels"},
          "transform": [{"filter": "datum.name != 'bid'"}],
          "mark": {"type": "rule", "strokeWidth": 2},
          "encoding": {
            "y": {"field": "p", "type": "quantitative"},
            "color": {"field": "name", "type": "nominal", "scale": {"domain": ["target","resistance","support"], "range": ["#2fbf2f","#0000ff","#ff0000"]}, "legend": null}
          }
        },
        {
          "data": {"name": "levels"},
          "transform": [{"filter": "datum.name == 'bid'"}],
          "mark": {"type": "rule", "color": "black", "strokeWidth": 10, "strokeCap": "butt", "yOffset": 2.5, "clip": false},
          "encoding": {
            "x": {"datum": 161.0},
            "x2": {"datum": 170.7},
            "y": {"field": "p", "type": "quantitative"}
          }
        },
        {
          "data": {"name": "levels"},
          "transform": [{"filter": "datum.name == 'bid'"}],
          "mark": {"type": "text", "color": "white", "fontSize": 9, "align": "left", "baseline": "middle", "yOffset": 2.5, "clip": false},
          "encoding": {
            "x": {"datum": 161.8},
            "y": {"field": "p", "type": "quantitative"},
            "text": {"field": "p", "format": ".3f"}
          }
        },
        {
          "data": {"name": "levels"},
          "transform": [{"filter": "datum.name != 'bid'"}],
          "mark": {"type": "rule", "strokeWidth": 11, "strokeCap": "butt", "clip": false},
          "encoding": {
            "x": {"datum": 161.0},
            "x2": {"datum": 170.7},
            "y": {"field": "p", "type": "quantitative"},
            "color": {"field": "name", "type": "nominal", "legend": null}
          }
        },
        {
          "data": {"name": "levels"},
          "transform": [{"filter": "datum.name != 'bid'"}],
          "mark": {"type": "text", "color": "white", "fontSize": 9, "align": "left", "baseline": "middle", "clip": false},
          "encoding": {
            "x": {"datum": 161.8},
            "y": {"field": "p", "type": "quantitative"},
            "text": {"field": "p", "format": ".3f"}
          }
        },
        {
          "data": {"name": "arrow"},
          "mark": {"type": "line", "color": "#2fbf2f", "strokeWidth": 3, "strokeDash": [6, 3]},
          "encoding": {
            "x": {"field": "i", "type": "quantitative"},
            "y": {"field": "p", "type": "quantitative"}
          }
        },
        {
          "data": {"values": [{}]},
          "mark": {"type": "point", "shape": "triangle-up", "size": 90, "filled": true, "color": "#2fbf2f", "opacity": 1, "angle": 15},
          "encoding": {"x": {"datum": 130.5}, "y": {"datum": 105.985}}
        },
        {
          "data": {"values": [{}]},
          "mark": {"type": "point", "shape": "circle", "size": 900, "filled": false, "color": "#b8875c", "strokeWidth": 2.5, "opacity": 1, "clip": false},
          "encoding": {"x": {"datum": 130.8}, "y": {"datum": 106.0}}
        },
        {
          "data": {"values": [{}]},
          "mark": {"type": "text", "text": "▼ USDJPY,H4  105.138 105.408 105.110 105.233", "fontSize": 9, "color": "#111111", "align": "left", "baseline": "middle"},
          "encoding": {"x": {"datum": 0.3}, "y": {"datum": 106.11}}
        }
      ]
    },
    {
      "width": 621,
      "height": 106,
      "layer": [
        {
          "data": {"name": "rsi"},
          "mark": {"type": "line", "color": "#5b8fe3", "strokeWidth": 1.5, "clip": true},
          "encoding": {
            "x": {"field": "i", "type": "quantitative", "scale": {"domain": [-0.5, 160], "nice": false, "zero": false},
              "axis": {"values": [8,16,24,32,40,48,56,64,72,80,88,96,104,112,120,128,136,144,152], "labels": false, "ticks": false, "domain": false, "grid": true, "gridDash": [3,3], "gridColor": "#c4c4c4", "title": null}},
            "y": {"field": "v", "type": "quantitative", "scale": {"domain": [0, 100], "nice": false},
              "axis": {"orient": "right", "values": [0,30,50,70,100], "labels": false, "grid": true, "gridColor": "#c4c4c4", "gridOpacity": {"condition": {"test": "datum.value == 0 || datum.value == 100", "value": 0}, "value": 1}, "domain": false, "tickSize": 3, "title": null}}
          }
        },
        {
          "data": {"name": "rsiTicks"},
          "transform": [{"filter": "datum.v == 100"}],
          "mark": {"type": "text", "fontSize": 9, "color": "black", "align": "left", "baseline": "top", "yOffset": 2, "clip": false},
          "encoding": {"x": {"datum": 161.8}, "y": {"field": "v", "type": "quantitative"}, "text": {"field": "v"}}
        },
        {
          "data": {"name": "rsiTicks"},
          "transform": [{"filter": "datum.v == 0"}],
          "mark": {"type": "text", "fontSize": 9, "color": "black", "align": "left", "baseline": "bottom", "yOffset": -1, "clip": false},
          "encoding": {"x": {"datum": 161.8}, "y": {"field": "v", "type": "quantitative"}, "text": {"field": "v"}}
        },
        {
          "data": {"name": "rsiTicks"},
          "transform": [{"filter": "datum.v > 0 && datum.v < 100"}],
          "mark": {"type": "text", "fontSize": 9, "color": "#9a9a9a", "align": "left", "baseline": "middle", "clip": false},
          "encoding": {"x": {"datum": 161.8}, "y": {"field": "v", "type": "quantitative"}, "text": {"field": "v"}}
        },
        {
          "data": {"values": [{}]},
          "mark": {"type": "point", "shape": "circle", "size": 2300, "filled": false, "color": "#b8875c", "strokeWidth": 2.5, "opacity": 1, "clip": false},
          "encoding": {"x": {"datum": 124.1}, "y": {"datum": 68}}
        },
        {
          "data": {"values": [{}]},
          "mark": {"type": "text", "text": "RSI(14) 68.1741", "fontSize": 9, "color": "#111111", "align": "left", "baseline": "middle"},
          "encoding": {"x": {"datum": 0.3}, "y": {"datum": 91.5}}
        }
      ]
    },
    {
      "width": 621,
      "height": 92,
      "layer": [
        {
          "data": {"name": "stoch"},
          "transform": [{"filter": "datum.s == 'main'"}],
          "mark": {"type": "line", "color": "#5b8fe3", "strokeWidth": 1.5, "clip": true},
          "encoding": {
            "x": {"field": "i", "type": "quantitative", "scale": {"domain": [-0.5, 160], "nice": false, "zero": false},
              "axis": {"values": [0,8,16,24,32,40,48,56,64,72,80,88,96,104,112,120,128,136,144,152],
                "labelExpr": "datum.value % 16 == 0 && datum.value <= 112 ? ['29 Sep 2016','4 Oct 00:00','6 Oct 16:00','11 Oct 08:00','14 Oct 00:00','18 Oct 16:00','21 Oct 08:00','26 Oct 00:00'][datum.value / 16] : ''",
                "labelAlign": "left", "labelOverlap": false, "labelFlush": false, "labelBound": false, "labelPadding": 2,
                "tickSize": 3, "tickOpacity": {"condition": {"test": "datum.value % 16 == 0 && datum.value <= 112", "value": 1}, "value": 0},
                "domain": false, "grid": true, "gridDash": [3,3], "gridColor": "#c4c4c4",
                "gridOpacity": {"condition": {"test": "datum.value == 0", "value": 0}, "value": 1}, "title": null}},
            "y": {"field": "v", "type": "quantitative", "scale": {"domain": [0, 100], "nice": false},
              "axis": {"orient": "right", "values": [0,20,50,80,100], "labels": false, "grid": true, "gridColor": "#c4c4c4", "gridOpacity": {"condition": {"test": "datum.value == 0 || datum.value == 100", "value": 0}, "value": 1}, "domain": false, "tickSize": 3, "title": null}}
          }
        },
        {
          "data": {"name": "stoch"},
          "transform": [{"filter": "datum.s == 'signal'"}],
          "mark": {"type": "line", "color": "#ff1010", "strokeWidth": 2, "clip": true},
          "encoding": {
            "x": {"field": "i", "type": "quantitative"},
            "y": {"field": "v", "type": "quantitative"}
          }
        },
        {
          "data": {"name": "stochTicks"},
          "transform": [{"filter": "datum.v == 100"}],
          "mark": {"type": "text", "fontSize": 9, "color": "black", "align": "left", "baseline": "top", "yOffset": 2, "clip": false},
          "encoding": {"x": {"datum": 161.8}, "y": {"field": "v", "type": "quantitative"}, "text": {"field": "v"}}
        },
        {
          "data": {"name": "stochTicks"},
          "transform": [{"filter": "datum.v == 0"}],
          "mark": {"type": "text", "fontSize": 9, "color": "black", "align": "left", "baseline": "bottom", "yOffset": -1, "clip": false},
          "encoding": {"x": {"datum": 161.8}, "y": {"field": "v", "type": "quantitative"}, "text": {"field": "v"}}
        },
        {
          "data": {"name": "stochTicks"},
          "transform": [{"filter": "datum.v > 0 && datum.v < 100"}],
          "mark": {"type": "text", "fontSize": 9, "color": "#9a9a9a", "align": "left", "baseline": "middle", "clip": false},
          "encoding": {"x": {"datum": 161.8}, "y": {"field": "v", "type": "quantitative"}, "text": {"field": "v"}}
        },
        {
          "data": {"values": [{}]},
          "mark": {"type": "rect", "color": "#d42a2a", "opacity": 0.42},
          "encoding": {"x": {"datum": -0.25}, "x2": {"datum": 98.75}, "y": {"datum": 0}, "y2": {"datum": 51}}
        },
        {
          "data": {"values": [{}]},
          "mark": {"type": "text", "text": "[", "fontSize": 32, "color": "white", "opacity": 0.9, "align": "left", "baseline": "alphabetic"},
          "encoding": {"x": {"datum": 5.4}, "y": {"datum": 5}}
        },
        {
          "data": {"values": [{}]},
          "mark": {"type": "text", "text": "www.instaforex", "fontSize": 36, "color": "white", "opacity": 0.9, "align": "left", "baseline": "alphabetic"},
          "encoding": {"x": {"datum": 12.2}, "y": {"datum": 4.5}}
        },
        {
          "data": {"values": [{}]},
          "mark": {"type": "text", "text": ".com", "fontSize": 24, "color": "white", "opacity": 0.9, "align": "left", "baseline": "alphabetic"},
          "encoding": {"x": {"datum": 76.0}, "y": {"datum": 4.5}}
        },
        {
          "data": {"values": [{}]},
          "mark": {"type": "text", "text": "]", "fontSize": 32, "color": "white", "opacity": 0.9, "align": "left", "baseline": "alphabetic"},
          "encoding": {"x": {"datum": 90.7}, "y": {"datum": 5}}
        },
        {
          "data": {"values": [{}]},
          "mark": {"type": "point", "shape": "circle", "size": 2000, "filled": false, "color": "#b8875c", "strokeWidth": 2.5, "opacity": 1, "clip": false},
          "encoding": {"x": {"datum": 122.3}, "y": {"datum": 85}}
        },
        {
          "data": {"values": [{}]},
          "mark": {"type": "text", "text": "Stoch(5,3,3) 78.8787 85.7772", "fontSize": 9, "color": "#111111", "align": "left", "baseline": "middle"},
          "encoding": {"x": {"datum": 0.3}, "y": {"datum": 91.3}}
        }
      ]
    }
  ]
}
